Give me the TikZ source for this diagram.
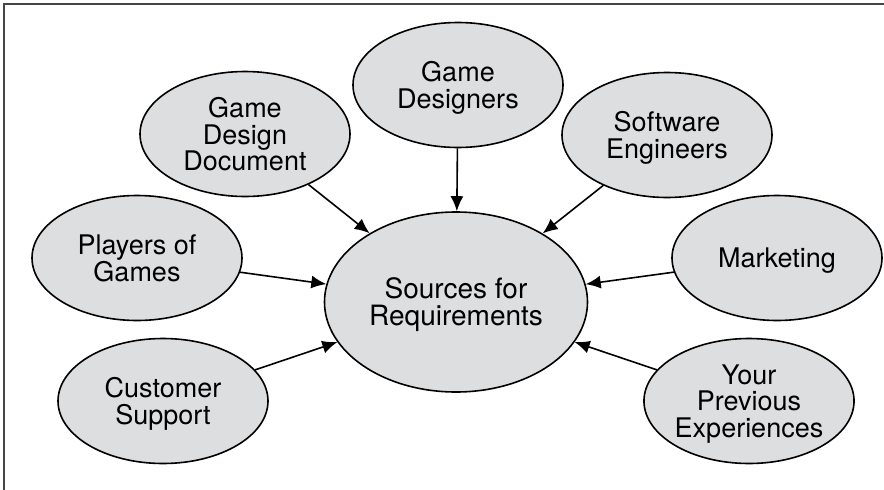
\documentclass[tikz,border=0pt]{standalone}
\usepackage{fontspec}
\setmainfont{TeX Gyre Heros}
\usetikzlibrary{shapes.geometric,arrows.meta}
\definecolor{ellfill}{RGB}{221,222,224}
\definecolor{framegray}{RGB}{70,70,70}
\begin{document}
\begin{tikzpicture}
    [x=1pt, y=-1pt,
     source/.style={ellipse, draw, fill=ellfill, line width=1.6pt,
       minimum width=210pt, minimum height=125pt, inner sep=0pt,
       text depth=0pt, align=center, font=\fontsize{27}{26.5}\selectfont},
     >={Latex[length=15pt,width=13pt]}]
    \useasboundingbox (0,0) rectangle (884,490);
    \draw[line width=1.5pt, framegray] (4,490) -- (4,4) -- (884,4); % open frame

    \node[source, minimum width=263pt, minimum height=180pt,
      font=\fontsize{28}{27}\selectfont] (req) at (456,302) {Sources for\\Requirements};

    \foreach \s/\x/\y/\txt in {gd/458/85/{Game\\Designers},
                               gdd/245/134/{Game\\Design\\Document},
                               se/667/135/{Software\\Engineers},
                               players/137/258/{Players of\\Games},
                               mkt/777/258/{Marketing},
                               cs/163/401/{Customer\\Support},
                               ype/749/401/{Your\\Previous\\Experiences}}
    {
      \node[source] (\s) at (\x,\y) {\txt};
      \draw[->, line width=1.6pt] (\s) -- (req);
    }
\end{tikzpicture}
\end{document}
